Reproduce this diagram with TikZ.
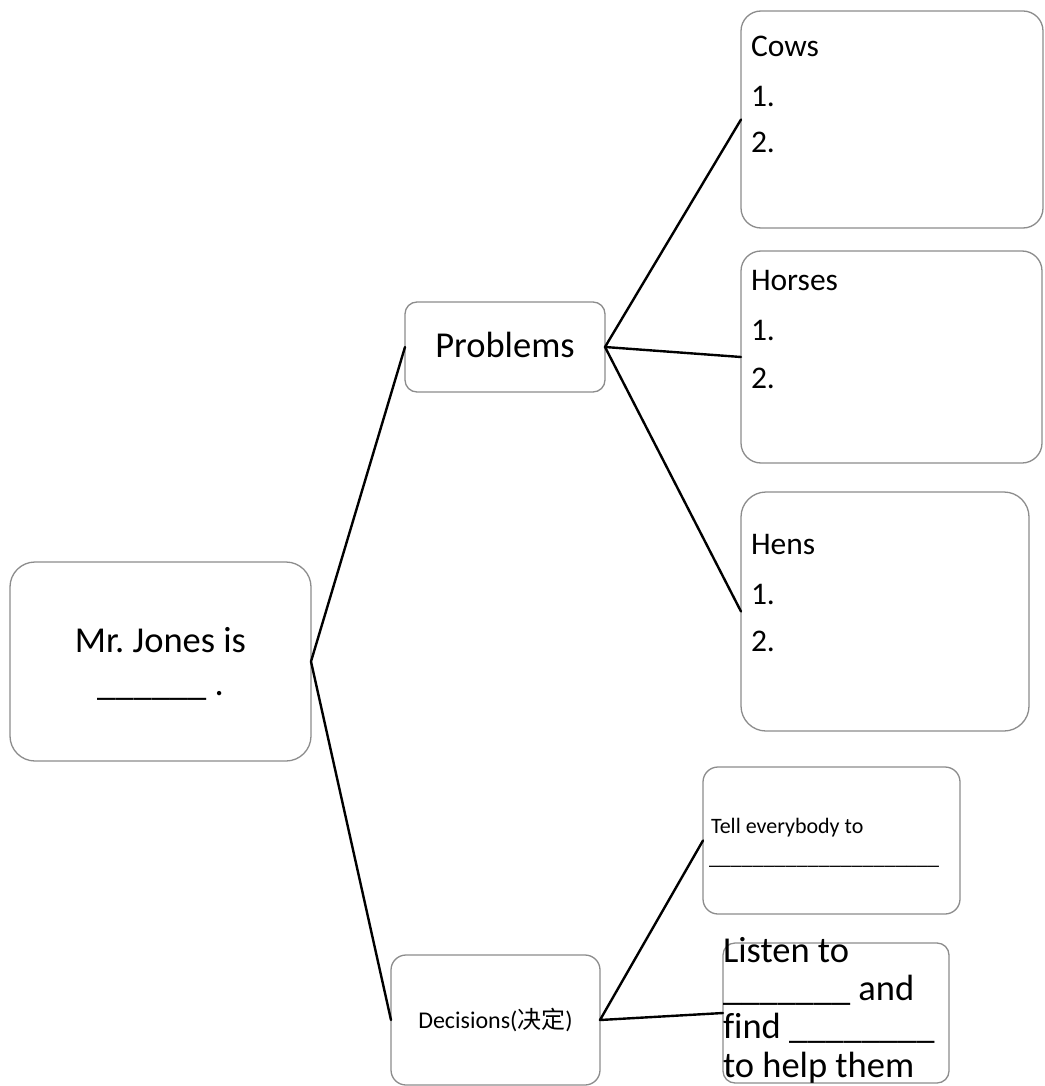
\documentclass[tikz,border=0pt]{standalone}
\usepackage{fontspec}
\setmainfont[RawFeature=-liga]{Carlito}
\newfontfamily\cjk{Noto Sans CJK SC}
\frenchspacing
\begin{document}
\begin{tikzpicture}[x=1pt,y=-1pt,
  box/.style={draw=black!45, line width=1.3pt, fill=none, inner sep=0pt, outer sep=0pt},
  link/.style={draw=black, line width=2.4pt, line cap=round, line join=round},
  txt/.style={inner sep=0pt, outer sep=0pt, text=black},
  big/.style={font=\fontsize{36.5}{40}\selectfont},
  mid/.style={font=\fontsize{31.5}{34}\selectfont},
  small/.style={font=\fontsize{22}{26}\selectfont},
  dec/.style={font=\fontsize{24}{28}\selectfont}]
\path[use as bounding box] (0,0) rectangle (1044,1086);
\fill[white] (0,0) rectangle (1044,1086);

% boxes
\node[box, rounded corners=25pt, minimum width=301pt, minimum height=199pt] (main) at (160.5,661.5) {};
\node[box, rounded corners=12pt, minimum width=200pt, minimum height=90pt] (prob) at (505,347) {};
\node[box, rounded corners=15pt, minimum width=209pt, minimum height=130pt] (dec) at (495.5,1020) {};
\node[box, rounded corners=20pt, minimum width=302pt, minimum height=217pt] (cows) at (892,119.5) {};
\node[box, rounded corners=20pt, minimum width=301pt, minimum height=212pt] (horses) at (891.5,357) {};
\node[box, rounded corners=25pt, minimum width=288pt, minimum height=239pt] (hens) at (885,611.5) {};
\node[box, rounded corners=15pt, minimum width=257pt, minimum height=147pt] (tell) at (831.5,840.5) {};
\node[box, rounded corners=12pt, minimum width=226pt, minimum height=140pt] (listen) at (836,1013) {};

% connectors
\draw[link] (prob.west) -- (main.east) -- (dec.west);
\draw[link] (cows.west) -- (prob.east) -- (horses.west);
\draw[link] (prob.east) -- (hens.west);
\draw[link] (tell.west) -- (dec.east) -- (listen.west);

% texts
\node[txt, big, anchor=base] (t1) at (160.5,652) {Mr. Jones is};
\node[txt, big, anchor=base] (t2) at (160.5,695) {\_\_\_\_\_\_ .};
\node[txt, big, anchor=base] (t3) at (505,357) {Problems};
\node[txt, dec, anchor=base] (t4) at (495.5,1028) {Decisions({\cjk 决定})};

\node[txt, mid, anchor=base west] (c0) at (751,57) {Cows};
\node[txt, mid, anchor=base west] (c1) at (751,107) {1.};
\node[txt, mid, anchor=base west] (c2) at (751,153) {2.};

\node[txt, mid, anchor=base west] (h0) at (751,290) {Horses};
\node[txt, mid, anchor=base west] (h1) at (751,340) {1.};
\node[txt, mid, anchor=base west] (h2) at (751,388) {2.};

\node[txt, mid, anchor=base west] (e0) at (751,554) {Hens};
\node[txt, mid, anchor=base west] (e1) at (751,604) {1.};
\node[txt, mid, anchor=base west] (e2) at (751,651) {2.};

\node[txt, small, anchor=base west] (l1) at (711,833) {Tell everybody to};
\node[txt, small, anchor=base west] (l2) at (709,864) {\_\_\_\_\_\_\_\_\_\_\_\_\_\_\_\_\_\_\_\_\_};

\node[txt, big, anchor=base west] (s1) at (723,962) {Listen to};
\node[txt, big, anchor=base west] (s2) at (723,1000) {\_\_\_\_\_\_\_ and};
\node[txt, big, anchor=base west] (s3) at (723,1038) {find \_\_\_\_\_\_\_\_};
\node[txt, big, anchor=base west] (s4) at (723,1077) {to help them};
\end{tikzpicture}
\end{document}
